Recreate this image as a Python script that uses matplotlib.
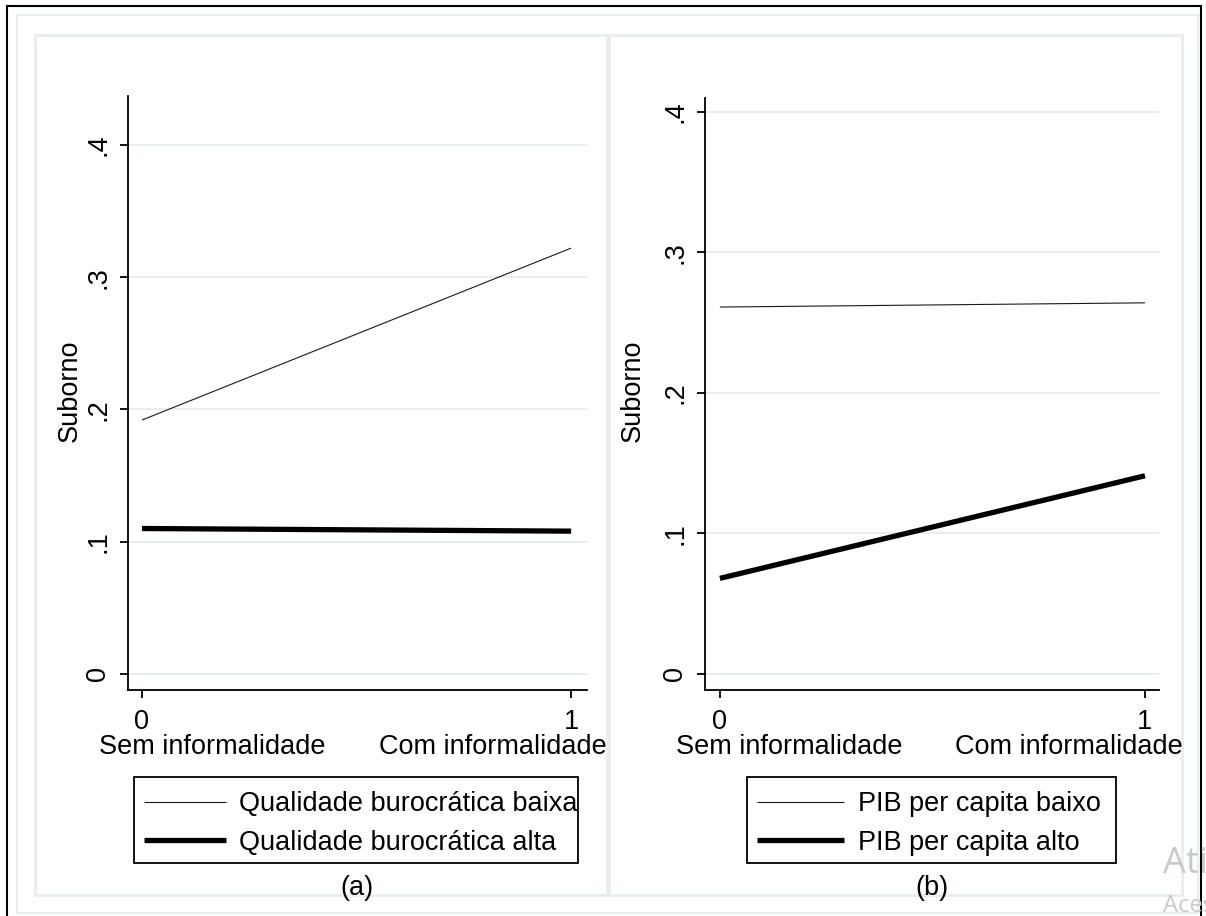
import matplotlib
matplotlib.use("Agg")
import matplotlib.pyplot as plt
from matplotlib.patches import Rectangle

plt.rcParams['font.family'] = ['Liberation Sans', 'DejaVu Sans']

# ---- data ----
x_vals = [0, 1]
x_ticklabels = ['0', '1']
y_ticks = [0.0, 0.1, 0.2, 0.3, 0.4]
y_ticklabels = ['0', '.1', '.2', '.3', '.4']
x_cat_labels = ['Sem informalidade', 'Com informalidade']
y_title = 'Suborno'

qualidade_baixa = [0.192, 0.322]
qualidade_alta = [0.110, 0.108]
pib_baixo = [0.261, 0.264]
pib_alto = [0.068, 0.141]

labels_a = ['Qualidade burocrática baixa', 'Qualidade burocrática alta']
labels_b = ['PIB per capita baixo', 'PIB per capita alto']
captions = ['(a)', '(b)']

# ---- figure helpers (pixel layout) ----
W, H = 1206, 916
fig = plt.figure(figsize=(W / 100, H / 100), dpi=100)
fig.patch.set_facecolor('white')


def fx(px):
    return px / W


def fy(py):
    return 1 - py / H


def frame(x0, y0, x1, y1, color, lw, z=0):
    fig.patches.append(Rectangle((fx(x0), fy(y1)), fx(x1) - fx(x0), fy(y0) - fy(y1),
                                 transform=fig.transFigure, fill=False,
                                 edgecolor=color, linewidth=lw, zorder=z))


FRAME_C = '#e6eef0'
frame(7, 6, 1201, 940, 'black', 1.5)
frame(17, 15, 1198, 913, FRAME_C, 1.5)
frame(35, 35, 607, 895, FRAME_C, 2.0)
frame(609, 35, 1182, 895, FRAME_C, 2.0)

FS = 19.5
THIN = 0.8
THICK = 3.8

panels = [
    dict(box=(128, 96, 587, 690), xlim=(-0.0326, 1.037), ylim=(-0.0121, 0.437),
         series=(qualidade_baixa, qualidade_alta), labels=labels_a,
         leg=(134, 777, 578, 863), hl=3.0, htp=0.48,
         xt=(212, 493), yl=70, cap=357),
    dict(box=(705, 98, 1159, 690), xlim=(-0.035, 1.033), ylim=(-0.0114, 0.4097),
         series=(pib_baixo, pib_alto), labels=labels_b,
         leg=(747, 777, 1116, 863), hl=3.2, htp=0.5,
         xt=(789, 1069), yl=633, cap=932),
]

for p, cap in zip(panels, captions):
    l, t, r, b = p['box']
    ax = fig.add_axes([fx(l), fy(b), fx(r) - fx(l), fy(t) - fy(b)])
    ax.set_facecolor('none')
    ax.set_xlim(*p['xlim'])
    ax.set_ylim(*p['ylim'])
    for s in ('top', 'right'):
        ax.spines[s].set_visible(False)
    for s in ('left', 'bottom'):
        ax.spines[s].set_linewidth(1.3)
        ax.spines[s].set_color('black')

    ax.set_yticks(y_ticks)
    ax.set_yticklabels(y_ticklabels, rotation=90, va='center', fontsize=FS)
    ax.set_xticks(x_vals)
    ax.set_xticklabels(x_ticklabels, fontsize=FS)
    ax.tick_params(axis='both', length=6, width=1.3, color='black')
    ax.tick_params(axis='y', pad=6)
    ax.tick_params(axis='x', pad=8)
    ax.yaxis.grid(True, color=FRAME_C, linewidth=1.4)
    ax.set_axisbelow(True)

    low, high = p['series']
    h1, = ax.plot(x_vals, low, color='#1a1a1a', linewidth=THIN, solid_capstyle='butt')
    h2, = ax.plot(x_vals, high, color='black', linewidth=THICK, solid_capstyle='butt')

    lx0, ly0, lx1, ly1 = p['leg']
    ax.legend([h1, h2], p['labels'], loc='upper left',
              bbox_to_anchor=(fx(lx0 - 1), fy(ly0 + 3)),
              bbox_transform=fig.transFigure, borderaxespad=0,
              fontsize=FS, frameon=False, handlelength=p['hl'],
              handletextpad=p['htp'], borderpad=0.42, labelspacing=0.46)
    frame(lx0, ly0, lx1, ly1, 'black', 1.3, z=5)

    for cx, txt in zip(p['xt'], x_cat_labels):
        fig.text(fx(cx), fy(747), txt, ha='center', va='center', fontsize=FS)
    fig.text(fx(p['yl']), fy(391), y_title, rotation=90, ha='center', va='center',
             fontsize=FS)
    fig.text(fx(p['cap']), fy(888), cap, ha='center', va='center', fontsize=FS)

# system overlay text at the lower right corner
fig.text(fx(1163), fy(873), 'Ativar o Windows', color='#c9c9c9', fontsize=26,
         family=['Open Sans', 'DejaVu Sans'], ha='left', va='baseline')
fig.text(fx(1163), fy(912), 'Acesse Configurações para ativar o Windows.',
         color='#c9c9c9', fontsize=17, family=['Open Sans', 'DejaVu Sans'],
         ha='left', va='baseline')

fig.savefig('out.png', dpi=100)
